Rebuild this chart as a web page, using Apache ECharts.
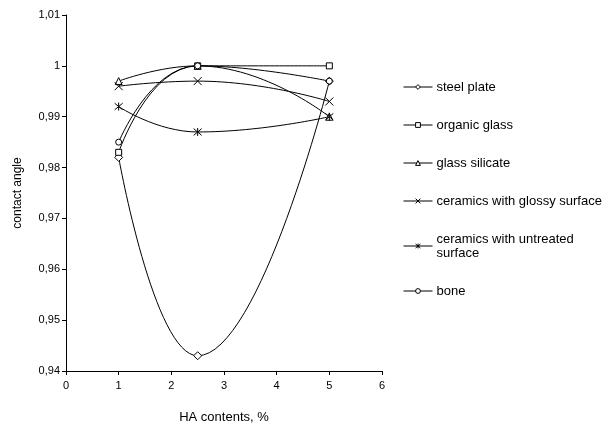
<!DOCTYPE html>
<html>
<head>
<meta charset="utf-8">
<script src="https://cdn.jsdelivr.net/npm/echarts@6/dist/echarts.min.js"></script>
<style>
  html, body { margin: 0; padding: 0; background: #fff; }
  #chart { width: 615px; height: 429px; }
</style>
</head>
<body>
<div id="chart"></div>
<script>
// HA content, %
const haContent = [1, 2.5, 5];

const steelPlate = [0.982, 0.943, 0.997];
const organicGlass = [0.983, 1.0, 1.0];
const glassSilicate = [0.997, 1.0, 0.990];
const ceramicsGlossy = [0.996, 0.997, 0.993];
const ceramicsUntreated = [0.992, 0.987, 0.990];
const bone = [0.985, 1.0, 0.997];

const seriesNames = [
    'steel plate',
    'organic glass',
    'glass silicate',
    'ceramics with glossy surface',
    'ceramics with untreated surface',
    'bone'
];

const font = 'Arial, "Liberation Sans", sans-serif';
const crossPath = 'path://M0,0L10,10M10,0L0,10';
const starPath = 'path://M0,0L10,10M10,0L0,10M5,-1L5,11';

const makeSeries = (name, values, symbol, size) => ({
    name: name,
    type: 'line',
    smooth: 0.5,
    data: haContent.map((x, i) => [x, values[i]]),
    symbol: symbol,
    symbolSize: size,
    showAllSymbol: true,
    lineStyle: { color: '#000', width: 1 },
    itemStyle: { color: '#fff', borderColor: '#000', borderWidth: 1 },
    emphasis: { disabled: true }
});

var chart = echarts.init(document.getElementById('chart'), null, { renderer: 'canvas' });

var option = {
    animation: false,
    textStyle: { fontFamily: font },
    grid: { left: 66, right: 233, top: 15, bottom: 57 },
    legend: {
        orient: 'vertical',
        left: 398,
        top: 75,
        itemWidth: 29,
        itemHeight: 6,
        itemGap: 24,
        lineStyle: { width: 1, color: '#000' },
        itemStyle: { borderWidth: 1, borderColor: '#000', color: '#fff' },
        textStyle: { fontSize: 13, lineHeight: 14, color: '#000', fontFamily: font, padding: [0, 0, 0, -1] },
        formatter: name => name === 'ceramics with untreated surface' ? 'ceramics with untreated\nsurface' : name,
        data: seriesNames
    },
    xAxis: {
        type: 'value',
        min: 0,
        max: 6,
        interval: 1,
        name: 'HA contents, %',
        nameLocation: 'middle',
        nameGap: 40,
        nameTextStyle: { fontSize: 13, color: '#000' },
        axisLine: { lineStyle: { color: '#000', width: 1 } },
        axisTick: { length: 4, lineStyle: { color: '#000' } },
        axisLabel: { fontSize: 11, color: '#000', margin: 9 },
        splitLine: { show: false }
    },
    yAxis: {
        type: 'value',
        min: 0.94,
        max: 1.01,
        interval: 0.01,
        name: 'contact angle',
        nameLocation: 'middle',
        nameGap: 42,
        nameTextStyle: { fontSize: 12, color: '#000' },
        axisLine: { show: true, lineStyle: { color: '#000', width: 1 } },
        axisTick: { show: true, length: 4, lineStyle: { color: '#000' } },
        axisLabel: {
            fontSize: 11,
            color: '#000',
            margin: 6,
            formatter: v => String(+v.toFixed(2)).replace('.', ',')
        },
        splitLine: { show: false }
    },
    series: [
        makeSeries(seriesNames[0], steelPlate, 'diamond', 8),
        makeSeries(seriesNames[1], organicGlass, 'rect', 6),
        makeSeries(seriesNames[2], glassSilicate, 'triangle', 7),
        makeSeries(seriesNames[3], ceramicsGlossy, crossPath, 8),
        makeSeries(seriesNames[4], ceramicsUntreated, starPath, 8),
        makeSeries(seriesNames[5], bone, 'circle', 6)
    ]
};

chart.setOption(option);
</script>
</body>
</html>
